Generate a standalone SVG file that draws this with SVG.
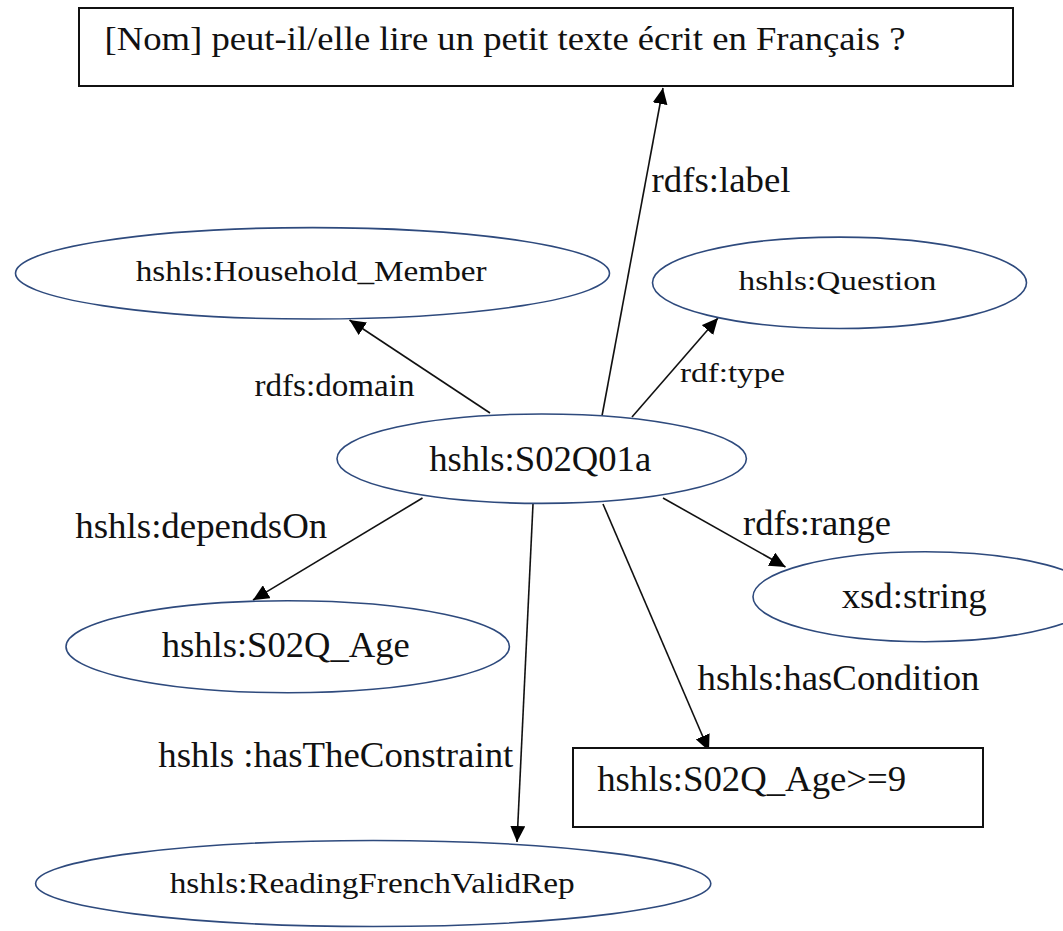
<svg xmlns="http://www.w3.org/2000/svg" width="1063" height="931" viewBox="0 0 1063 931" font-family="'Liberation Serif', 'DejaVu Serif', serif">
<style>
.bg{fill:#ffffff}
.ell{fill:#ffffff;stroke:#2e4a7d;stroke-width:1.6}
.box{fill:#ffffff;stroke:#111111;stroke-width:2}
.edge{fill:none;stroke:#111111;stroke-width:1.6;marker-end:url(#arr)}
.t{font-family:'Liberation Serif','DejaVu Serif',serif;fill:#111111}
</style>
<defs>
<marker id="arr" viewBox="0 0 16 15" refX="16" refY="7.5" markerWidth="16" markerHeight="15" orient="auto" markerUnits="userSpaceOnUse">
<path d="M0,0 L16,7.5 L0,15 z" fill="#000000"/>
</marker>
</defs>
<rect class="bg" x="0" y="0" width="1063" height="931"/>
<g id="connectors">
<line class="edge" x1="602" y1="416" x2="663" y2="88"/>
<line class="edge" x1="490" y1="413" x2="349.5" y2="320"/>
<line class="edge" x1="632" y1="417" x2="718" y2="318"/>
<line class="edge" x1="422.5" y1="498" x2="253" y2="600"/>
<line class="edge" x1="663" y1="498" x2="785.5" y2="567"/>
<line class="edge" x1="533" y1="504" x2="517" y2="842"/>
<line class="edge" x1="603" y1="504" x2="709" y2="751"/>
<text class="t" font-family="Liberation Serif, serif" x="651.5" y="191.7" font-size="36" textLength="139" lengthAdjust="spacingAndGlyphs">rdfs:label</text>
<text class="t" font-family="Liberation Serif, serif" x="254.5" y="396" font-size="31" textLength="160" lengthAdjust="spacingAndGlyphs">rdfs:domain</text>
<text class="t" font-family="Liberation Serif, serif" x="680" y="381.7" font-size="27" textLength="105" lengthAdjust="spacingAndGlyphs">rdf:type</text>
<text class="t" font-family="Liberation Serif, serif" x="75.3" y="538.3" font-size="35" textLength="252" lengthAdjust="spacingAndGlyphs">hshls:dependsOn</text>
<text class="t" font-family="Liberation Serif, serif" x="743" y="535" font-size="35" textLength="148" lengthAdjust="spacingAndGlyphs">rdfs:range</text>
<text class="t" font-family="Liberation Serif, serif" x="158.3" y="767.3" font-size="35" textLength="355" lengthAdjust="spacingAndGlyphs">hshls :hasTheConstraint</text>
<text class="t" font-family="Liberation Serif, serif" x="697.5" y="690.3" font-size="36" textLength="282" lengthAdjust="spacingAndGlyphs">hshls:hasCondition</text>
</g>
<g id="node-label">
<rect class="box" x="79" y="8" width="934" height="78"/>
<text class="t" font-family="Liberation Serif, serif" x="104.5" y="50" font-size="33" textLength="801" lengthAdjust="spacingAndGlyphs">[Nom] peut-il/elle lire un petit texte écrit en Français ?</text>
</g>
<g id="node-household">
<ellipse class="ell" cx="312.5" cy="273.3" rx="297" ry="45.7"/>
<text class="t" font-family="Liberation Serif, serif" x="135.7" y="281" font-size="29" textLength="351" lengthAdjust="spacingAndGlyphs">hshls:Household_Member</text>
</g>
<g id="node-question">
<ellipse class="ell" cx="839.5" cy="282.8" rx="187" ry="45.7"/>
<text class="t" font-family="Liberation Serif, serif" x="738.5" y="290" font-size="28" textLength="198" lengthAdjust="spacingAndGlyphs">hshls:Question</text>
</g>
<g id="node-s02q01a">
<ellipse class="ell" cx="541.7" cy="458.7" rx="204.7" ry="44.7"/>
<text class="t" font-family="Liberation Serif, serif" x="429.2" y="470.7" font-size="36" textLength="222" lengthAdjust="spacingAndGlyphs">hshls:S02Q01a</text>
</g>
<g id="node-xsdstring">
<ellipse class="ell" cx="925" cy="596.7" rx="172" ry="45"/>
<text class="t" font-family="Liberation Serif, serif" x="841.7" y="608.3" font-size="36" textLength="145" lengthAdjust="spacingAndGlyphs">xsd:string</text>
</g>
<g id="node-age">
<ellipse class="ell" cx="287.7" cy="646.7" rx="221.7" ry="46"/>
<text class="t" font-family="Liberation Serif, serif" x="161.7" y="657.3" font-size="36" textLength="248" lengthAdjust="spacingAndGlyphs">hshls:S02Q_Age</text>
</g>
<g id="node-condition">
<rect class="box" x="573" y="748" width="410" height="79"/>
<text class="t" font-family="Liberation Serif, serif" x="597.2" y="791" font-size="36" textLength="309" lengthAdjust="spacingAndGlyphs">hshls:S02Q_Age&gt;=9</text>
</g>
<g id="node-reading">
<ellipse class="ell" cx="373.2" cy="883.5" rx="337.6" ry="43"/>
<text class="t" font-family="Liberation Serif, serif" x="169.7" y="892.7" font-size="29" textLength="405" lengthAdjust="spacingAndGlyphs">hshls:ReadingFrenchValidRep</text>
</g>
</svg>
